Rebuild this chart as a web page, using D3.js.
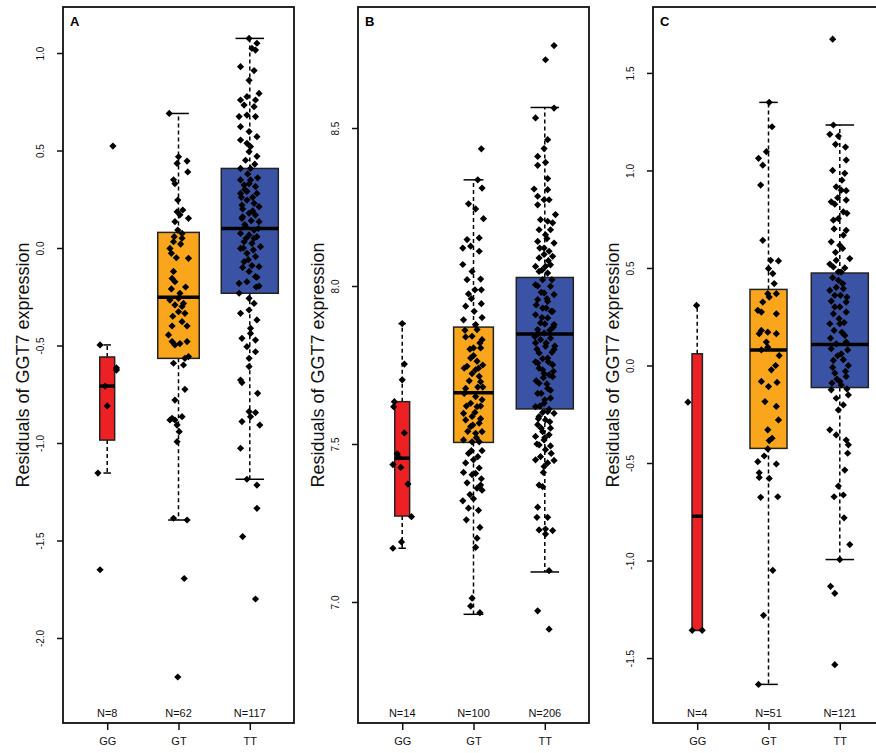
<!DOCTYPE html>
<html>
<head>
<meta charset="utf-8">
<script src="https://cdn.jsdelivr.net/npm/d3@7"></script>
<style>
  body { margin: 0; background: #fff; }
  svg { display: block; font-family: "Liberation Sans", Arial, sans-serif; }
</style>
</head>
<body>
<div id="chart"></div>
<script>
const genotypes = ["GG", "GT", "TT"];
const panelLabels = ["A", "B", "C"];
const sampleSizes = [[8, 62, 117], [14, 100, 206], [4, 51, 121]];
const yLimits = [[-2.436, 1.236], [6.617, 8.883], [-1.833, 1.838]];
const yTicks = [
  [-2, -1.5, -1, -0.5, 0, 0.5, 1],
  [7, 7.5, 8, 8.5],
  [-1.5, -1, -0.5, 0, 0.5, 1, 1.5]
];
const boxColors = ["#ED2024", "#F9A61C", "#3A53A4"];

// [lower whisker, Q1, median, Q3, upper whisker] per genotype
const boxA = [[-1.154, -0.985, -0.708, -0.559, -0.497], [-1.395, -0.566, -0.253, 0.08, 0.69], [-1.186, -0.232, 0.10, 0.408, 1.075]];
const boxB = [[7.17, 7.272, 7.455, 7.634, 7.881], [6.961, 7.505, 7.662, 7.870, 8.336], [7.095, 7.611, 7.848, 8.027, 8.565]];
const boxC = [[-1.358, -1.358, -0.773, 0.06, 0.308], [-1.635, -0.425, 0.08, 0.39, 1.349], [-0.995, -0.113, 0.108, 0.474, 1.233]];

// points: [jittered group, residual]
const pointsA_GG = [[1.08,0.523],[0.90,-0.497],[1.13,-0.615],[1.13,-0.626],[0.97,-0.708],[1.0,-0.81],[0.87,-1.154],[0.90,-1.65]];
const pointsA_GT = [[1.87,0.69],[2.0,0.468],[2.12,0.446],[1.98,0.434],[2.13,0.39],[1.93,0.35],[1.95,0.33],[1.99,0.246],[1.98,0.186],[2.06,0.195],[2.14,0.152],[2.02,0.17],[1.95,0.135],[1.99,0.092],[2.05,0.075],[1.94,0.058],[2.05,0.05],[1.93,0.032],[1.88,-0.002],[1.90,-0.027],[2.14,-0.053],[1.93,-0.12],[1.91,-0.156],[1.95,-0.173],[1.90,-0.21],[2.02,-0.232],[2.0,-0.258],[1.88,-0.267],[1.95,-0.292],[2.07,-0.284],[2.05,-0.3],[2.0,-0.327],[2.09,-0.335],[2.05,-0.378],[1.91,-0.4],[2.12,-0.4],[1.86,-0.446],[1.91,-0.48],[1.95,-0.497],[2.02,-0.49],[2.12,-0.48],[2.09,-0.566],[2.14,-0.557],[1.93,-0.591],[2.07,-0.6],[2.09,-0.725],[1.95,-0.78],[1.88,-0.882],[1.91,-0.873],[1.95,-0.882],[1.98,-0.908],[2.05,-0.865],[2.01,-0.942],[1.98,-0.993],[1.93,-1.386],[2.12,-1.395],[2.08,-1.695],[1.99,-2.2],[2.03,0.02],[1.97,-0.05],[2.1,-0.2],[1.92,-0.35]];
const pointsA_TT = [[2.99,1.075],[3.10,1.05],[3.08,1.015],[3.03,1.024],[2.87,0.93],[3.06,0.91],[2.99,0.86],[2.96,0.776],[3.13,0.793],[2.87,0.759],[3.08,0.759],[2.92,0.733],[3.06,0.725],[2.85,0.674],[2.96,0.682],[3.08,0.674],[2.87,0.622],[2.99,0.597],[3.10,0.571],[2.87,0.554],[2.96,0.537],[3.01,0.52],[2.99,0.494],[2.87,0.408],[3.01,0.408],[2.87,0.349],[3.01,0.349],[2.92,0.323],[3.08,0.315],[2.87,0.28],[3.10,0.28],[2.96,0.246],[3.06,0.229],[2.89,0.22],[3.13,0.212],[2.99,0.178],[3.08,0.169],[2.89,0.152],[3.13,0.135],[2.94,0.109],[3.06,0.092],[2.87,0.075],[2.99,0.067],[3.10,0.058],[2.92,0.032],[3.03,0.024],[2.87,-0.002],[3.15,0.007],[2.96,-0.027],[3.08,-0.044],[2.92,-0.07],[3.13,-0.096],[2.99,-0.12],[3.08,-0.147],[2.85,-0.181],[2.96,-0.173],[3.13,-0.195],[2.85,-0.232],[2.99,-0.258],[3.06,-0.284],[2.87,-0.335],[2.99,-0.318],[3.10,-0.369],[3.01,-0.412],[2.89,-0.463],[3.08,-0.472],[3.01,-0.438],[2.96,-0.506],[3.08,-0.532],[2.99,-0.566],[2.99,-0.608],[2.87,-0.677],[2.89,-0.69],[3.11,-0.745],[2.99,-0.839],[3.08,-0.844],[3.01,-0.865],[2.89,-0.89],[3.14,-0.908],[2.87,-1.027],[2.96,-1.186],[3.10,-1.216],[3.10,-1.335],[2.90,-1.48],[3.08,-1.8],[2.93,0.30],[3.04,0.26],[2.9,0.2],[3.12,0.1],[2.95,0.05],[3.05,-0.01],[2.9,-0.1],[3.1,-0.15],[2.97,0.38],[3.07,0.43],[2.93,0.12],[3.02,0.14],[2.88,0.26],[3.11,0.36],[2.98,-0.06],[3.04,0.19],[2.91,0.0],[3.09,-0.2],[2.96,0.29],[3.06,0.05],[2.94,0.45],[3.1,0.47],[2.99,0.33],[3.03,-0.09],[2.9,0.16]];

const pointsB_GG = [[1.0,7.881],[1.03,7.753],[1.0,7.703],[0.89,7.634],[0.88,7.618],[1.03,7.535],[0.93,7.469],[0.87,7.435],[0.98,7.426],[1.08,7.373],[1.13,7.27],[0.99,7.19],[0.87,7.17],[0.95,7.458]];
const pointsB_GT = [[2.11,8.434],[2.06,8.336],[2.12,8.31],[1.93,8.26],[2.03,8.244],[2.14,8.213],[1.91,8.147],[2.08,8.152],[1.85,8.12],[1.96,8.126],[2.08,8.11],[1.85,8.068],[1.98,8.046],[1.91,8.02],[2.10,8.022],[2.02,7.988],[2.11,7.988],[1.93,7.975],[2.11,7.944],[1.89,7.936],[1.86,7.893],[2.03,7.878],[2.05,7.862],[1.89,7.839],[1.98,7.841],[2.12,7.83],[2.0,7.804],[2.10,7.804],[1.96,7.772],[2.05,7.762],[1.91,7.746],[2.03,7.735],[2.08,7.714],[1.98,7.723],[2.10,7.697],[1.89,7.676],[2.03,7.65],[2.12,7.64],[1.96,7.629],[2.05,7.618],[1.86,7.597],[1.98,7.587],[1.89,7.576],[2.08,7.566],[1.96,7.555],[2.12,7.539],[2.03,7.534],[1.86,7.513],[1.98,7.507],[2.08,7.507],[1.97,7.479],[2.12,7.479],[2.0,7.45],[1.86,7.41],[1.98,7.403],[2.08,7.424],[2.03,7.407],[1.91,7.377],[2.10,7.37],[2.12,7.354],[2.05,7.36],[1.85,7.32],[2.0,7.327],[1.93,7.297],[2.09,7.236],[2.05,7.202],[2.03,7.173],[1.98,7.012],[1.96,6.987],[2.09,6.966],[1.88,7.86],[2.07,7.74],[1.94,7.70],[2.13,7.68],[1.9,7.62],[2.02,7.6],[2.1,7.58],[1.92,7.54],[2.04,7.52],[1.87,7.66],[2.0,7.78],[2.09,7.82],[1.95,7.8],[2.13,7.75],[1.93,7.47],[2.06,7.46],[1.89,7.44],[2.11,7.39],[1.95,7.34],[2.07,7.29],[1.9,7.26],[2.01,7.92],[2.12,7.9],[1.97,7.96],[1.87,7.74],[2.06,7.68],[1.99,7.56],[2.1,7.62]];
const pointsB_TT = [[3.13,8.761],[3.01,8.716],[3.13,8.563],[2.87,8.532],[3.04,8.463],[2.99,8.435],[2.90,8.41],[3.01,8.391],[2.90,8.382],[3.04,8.34],[2.85,8.307],[3.04,8.305],[2.90,8.284],[2.99,8.273],[3.06,8.273],[2.90,8.257],[3.15,8.226],[2.94,8.21],[3.04,8.205],[3.11,8.2],[2.92,8.178],[3.08,8.178],[3.01,8.162],[2.90,8.141],[3.13,8.136],[2.99,8.12],[3.06,8.11],[2.92,8.089],[3.11,8.094],[2.87,8.062],[3.01,8.062],[3.08,8.067],[2.92,8.046],[3.04,8.041],[2.97,8.02],[2.87,8.004],[3.08,7.999],[2.99,7.978],[3.13,7.973],[2.90,7.957],[3.04,7.951],[2.97,7.93],[3.11,7.92],[2.87,7.909],[3.04,7.899],[2.94,7.883],[3.13,7.878],[2.90,7.862],[2.99,7.851],[3.08,7.835],[2.87,7.82],[3.01,7.809],[3.13,7.799],[2.92,7.788],[3.04,7.772],[2.90,7.756],[3.11,7.751],[2.97,7.735],[3.06,7.719],[2.99,7.723],[3.11,7.713],[2.92,7.692],[3.04,7.676],[2.90,7.66],[3.08,7.645],[2.99,7.629],[2.87,7.618],[3.04,7.602],[3.13,7.597],[2.92,7.587],[3.01,7.576],[2.90,7.561],[3.08,7.55],[2.97,7.539],[3.06,7.529],[2.87,7.524],[2.99,7.513],[2.92,7.497],[3.08,7.494],[3.01,7.482],[2.87,7.45],[2.99,7.429],[3.13,7.448],[2.92,7.37],[2.97,7.365],[2.90,7.3],[3.04,7.268],[2.89,7.268],[2.92,7.228],[3.01,7.231],[3.11,7.226],[3.01,7.215],[3.06,7.099],[2.90,6.972],[3.06,6.914],[2.95,7.98],[3.03,7.96],[2.88,7.94],[3.09,7.92],[2.96,7.9],[3.0,7.88],[2.91,7.85],[3.07,7.86],[2.94,7.83],[3.02,7.82],[2.89,7.8],[3.1,7.79],[2.97,7.77],[3.05,7.76],[2.92,7.74],[3.12,7.73],[2.98,7.71],[3.03,7.69],[2.88,7.7],[3.08,7.67],[2.95,7.66],[3.0,7.64],[2.93,7.62],[3.06,7.61],[2.97,7.6],[3.02,7.93],[2.9,8.0],[3.1,8.02],[2.96,8.05],[3.05,8.08],[2.99,8.1],[2.93,8.12],[3.03,8.15],[2.91,7.58],[3.07,7.57],[2.95,7.55],[3.0,7.52],[2.89,7.5],[3.09,7.47],[2.94,7.46],[3.04,7.44],[2.98,7.41],[3.12,7.87],[2.86,7.84],[3.14,7.81],[2.87,7.76]];

const pointsC_GG = [[0.99,0.308],[0.87,-0.188],[0.93,-1.358],[1.07,-1.358]];
const pointsC_GT = [[2.01,1.349],[2.05,1.224],[1.97,1.096],[1.86,1.062],[1.92,1.027],[1.89,0.925],[1.92,0.642],[2.03,0.539],[2.14,0.536],[2.0,0.497],[2.06,0.471],[2.08,0.42],[1.99,0.368],[2.11,0.368],[2.01,0.351],[1.92,0.325],[1.90,0.274],[2.11,0.265],[1.85,0.283],[1.87,0.163],[1.99,0.171],[1.90,0.18],[2.11,0.163],[1.97,0.12],[1.99,0.094],[1.90,0.08],[2.15,0.051],[2.10,0.0],[2.04,-0.022],[1.90,-0.082],[2.0,-0.108],[2.12,-0.087],[1.95,-0.185],[2.11,-0.21],[2.14,-0.279],[1.99,-0.33],[2.05,-0.373],[2.01,-0.385],[1.99,-0.428],[1.94,-0.464],[1.85,-0.493],[2.11,-0.505],[1.87,-0.55],[1.87,-0.574],[2.01,-0.579],[1.89,-0.676],[2.13,-0.673],[2.06,-1.05],[1.93,-1.281],[1.86,-1.635]];
const pointsC_TT = [[2.90,1.673],[2.91,1.233],[2.86,1.185],[2.98,1.176],[2.94,1.134],[3.09,1.053],[3.07,0.985],[2.95,0.916],[3.02,0.899],[3.09,0.896],[2.88,0.839],[2.93,0.827],[3.09,0.848],[3.05,0.788],[2.91,0.745],[2.98,0.753],[3.09,0.693],[3.05,0.668],[2.88,0.634],[3.0,0.616],[2.95,0.539],[3.14,0.548],[2.91,0.505],[3.02,0.479],[2.98,0.437],[2.86,0.385],[3.05,0.394],[2.93,0.36],[3.09,0.325],[3.0,0.3],[2.91,0.265],[3.09,0.274],[2.86,0.214],[3.0,0.214],[3.07,0.154],[2.95,0.111],[3.09,0.12],[2.88,0.086],[3.02,0.06],[2.91,0.026],[3.12,0.0],[2.93,-0.039],[3.09,-0.056],[3.0,-0.082],[2.88,-0.125],[3.12,-0.151],[2.95,-0.168],[3.05,-0.202],[2.98,-0.228],[2.86,-0.33],[2.95,-0.356],[3.09,-0.382],[3.12,-0.407],[3.11,-0.45],[3.07,-0.536],[2.98,-0.618],[3.05,-0.664],[2.92,-0.673],[3.06,-0.781],[3.14,-0.918],[3.0,-0.995],[2.87,-1.132],[2.93,-1.168],[2.93,-1.534],[2.9,0.45],[3.04,0.42],[2.95,0.4],[3.1,0.35],[2.88,0.33],[2.99,0.24],[3.06,0.22],[2.92,0.18],[3.03,0.17],[2.87,0.14],[3.11,0.08],[2.97,0.05],[3.05,0.03],[2.9,-0.01],[3.08,-0.03],[2.96,-0.07],[3.02,-0.1],[2.89,-0.09],[3.1,-0.12],[2.93,0.3],[3.01,0.36],[2.98,0.48],[3.07,0.5],[2.86,0.52],[2.94,0.58],[3.04,0.6],[2.92,0.7],[3.1,0.78],[2.97,0.86],[3.03,0.95],[2.9,1.0],[3.08,1.12]];

const panels = [
  { box: boxA, points: [pointsA_GG, pointsA_GT, pointsA_TT] },
  { box: boxB, points: [pointsB_GG, pointsB_GT, pointsB_TT] },
  { box: boxC, points: [pointsC_GG, pointsC_GT, pointsC_TT] }
];

const width = 876;
const height = 753;
const panelLeft = [63, 358, 653];
const panelWidth = 231;
const plotTop = 7;
const plotBottom = 723;

const svg = d3
  .select("#chart")
  .append("svg")
  .attr("width", width)
  .attr("height", height);

svg.append("rect").attr("width", width).attr("height", height).attr("fill", "#fff");

const diamond = d3.symbol().type(d3.symbolSquare).size(26);

panels.forEach(function (panel, p) {
  const left = panelLeft[p];
  const g = svg.append("g");

  const x = d3.scaleLinear().domain([0.38, 3.62]).range([left, left + panelWidth]);
  const y = d3.scaleLinear().domain(yLimits[p]).range([plotBottom, plotTop]);
  const maxRoot = Math.sqrt(d3.max(sampleSizes[p]));

  // boxes (varwidth)
  panel.box.forEach(function (s, i) {
    const c = i + 1;
    const hw = 0.4 * Math.sqrt(sampleSizes[p][i]) / maxRoot;
    const [lo, q1, med, q3, hi] = s;

    g.append("line")
      .attr("x1", x(c)).attr("x2", x(c))
      .attr("y1", y(q3)).attr("y2", y(hi))
      .attr("stroke", "#000").attr("stroke-width", 1.5)
      .attr("stroke-dasharray", "4,3");
    g.append("line")
      .attr("x1", x(c)).attr("x2", x(c))
      .attr("y1", y(q1)).attr("y2", y(lo))
      .attr("stroke", "#000").attr("stroke-width", 1.5)
      .attr("stroke-dasharray", "4,3");

    [lo, hi].forEach(function (v) {
      g.append("line")
        .attr("x1", x(c - hw / 2)).attr("x2", x(c + hw / 2))
        .attr("y1", y(v)).attr("y2", y(v))
        .attr("stroke", "#000").attr("stroke-width", 1.5);
    });

    g.append("rect")
      .attr("x", x(c - hw))
      .attr("width", x(c + hw) - x(c - hw))
      .attr("y", y(q3))
      .attr("height", Math.max(0, y(q1) - y(q3)))
      .attr("fill", boxColors[i])
      .attr("stroke", "#222")
      .attr("stroke-width", 1.5);

    g.append("line")
      .attr("x1", x(c - hw)).attr("x2", x(c + hw))
      .attr("y1", y(med)).attr("y2", y(med))
      .attr("stroke", "#000").attr("stroke-width", 3.5);
  });

  // jittered points
  panel.points.forEach(function (pts) {
    g.selectAll(null)
      .data(pts)
      .enter()
      .append("path")
      .attr("d", diamond)
      .attr("transform", (d) => "translate(" + x(d[0]) + "," + y(d[1]) + ") rotate(45)")
      .attr("fill", "#000");
  });

  // N labels
  g.selectAll(null)
    .data(sampleSizes[p])
    .enter()
    .append("text")
    .attr("x", (d, i) => x(i + 1))
    .attr("y", 717)
    .attr("text-anchor", "middle")
    .style("font-size", "11px")
    .attr("fill", "#111")
    .text((d) => "N=" + d);

  // frame
  g.append("rect")
    .attr("x", left).attr("y", plotTop)
    .attr("width", panelWidth).attr("height", plotBottom - plotTop)
    .attr("fill", "none")
    .attr("stroke", "#111")
    .attr("stroke-width", 1.8);

  // y axis
  const yAxis = g.append("g")
    .attr("transform", "translate(" + left + ",0)")
    .call(d3.axisLeft(y).tickValues(yTicks[p]).tickSize(6).tickFormat((d) => d.toFixed(1)));
  yAxis.select(".domain").remove();
  yAxis.selectAll("line").attr("stroke", "#111").attr("stroke-width", 1.5);
  yAxis.selectAll("text")
    .attr("transform", "rotate(-90)")
    .attr("x", 0).attr("y", -19.5).attr("dy", 0)
    .attr("text-anchor", "middle")
    .attr("fill", "#111")
    .style("font-size", "10px")
    .style("font-family", "Liberation Sans, Arial, sans-serif");

  // x axis
  const xAxis = g.append("g")
    .attr("transform", "translate(0," + plotBottom + ")")
    .call(d3.axisBottom(x).tickValues([1, 2, 3]).tickSize(7).tickPadding(7).tickFormat((d) => genotypes[d - 1]));
  xAxis.select(".domain").remove();
  xAxis.selectAll("line").attr("stroke", "#111").attr("stroke-width", 1.5);
  xAxis.selectAll("text")
    .attr("fill", "#111")
    .style("font-size", "11px")
    .style("font-family", "Liberation Sans, Arial, sans-serif");

  // panel letter
  g.append("text")
    .attr("x", left + 7)
    .attr("y", 26)
    .style("font-size", "13px")
    .style("font-weight", "bold")
    .text(panelLabels[p]);

  // y title
  g.append("text")
    .attr("transform", "translate(" + (left - 34) + "," + (plotTop + plotBottom) / 2 + ") rotate(-90)")
    .attr("text-anchor", "middle")
    .style("font-size", "18px")
    .attr("fill", "#111")
    .text("Residuals of GGT7 expression");
});
</script>
</body>
</html>
